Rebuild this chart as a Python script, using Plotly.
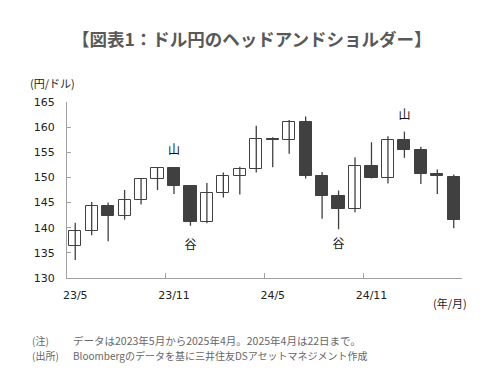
import plotly.graph_objects as go

months = ["23/5","23/6","23/7","23/8","23/9","23/10","23/11","23/12",
          "24/1","24/2","24/3","24/4","24/5","24/6","24/7","24/8","24/9","24/10","24/11","24/12",
          "25/1","25/2","25/3","25/4"]
open_ = [136.4, 139.4, 144.4, 142.4, 145.6, 149.6, 151.8, 148.3,
         141.1, 147.0, 150.2, 151.6, 157.7, 157.4, 161.1, 150.2, 146.3, 143.8, 152.3, 149.8,
         157.4, 155.4, 150.6, 150.1]
high = [141.0, 145.1, 145.0, 147.5, 149.8, 152.0, 152.0, 148.4,
        148.9, 151.0, 152.1, 160.3, 158.0, 161.4, 162.1, 151.1, 147.4, 154.0, 157.0, 158.2,
        159.1, 156.1, 151.6, 150.6]
low = [133.6, 138.5, 137.3, 141.6, 144.6, 147.5, 146.7, 140.4,
       140.9, 146.0, 146.6, 151.0, 152.0, 154.7, 149.8, 141.8, 139.7, 143.1, 149.8, 148.8,
       153.9, 148.7, 146.7, 139.9]
close = [139.4, 144.4, 142.4, 145.6, 149.6, 151.8, 148.3, 141.1,
         147.0, 150.2, 151.6, 157.7, 157.4, 161.1, 150.2, 146.3, 143.8, 152.3, 149.8, 157.4,
         155.4, 150.6, 150.3, 141.6]
tick_labels = ["23/5", "23/11", "24/5", "24/11"]
tick_idx = [0, 6, 12, 18]
mark_text = ["山", "谷", "山", "谷", "山"]
mark_idx = [6, 7, 14, 16, 20]
mark_val = [155.2, 136.4, 165.4, 136.6, 162.2]

x = list(range(len(months)))
dark = "#404040"

fig = go.Figure()
wx, wy = [], []
for i in x:
    wx += [i, i, None]
    wy += [low[i], high[i], None]
fig.add_trace(go.Scatter(x=wx, y=wy, mode="lines", line=dict(color=dark, width=1.3),
                         hoverinfo="skip", showlegend=False))
base = [min(o, c) for o, c in zip(open_, close)]
hgt = [max(abs(c - o), 0.25) for o, c in zip(open_, close)]
fills = ["white" if c >= o else dark for o, c in zip(open_, close)]
fig.add_trace(go.Bar(x=x, y=hgt, base=base, width=0.74,
                     marker=dict(color=fills, line=dict(color=dark, width=1)),
                     showlegend=False))
fig.add_trace(go.Scatter(x=mark_idx, y=mark_val, mode="text", text=mark_text,
                         textposition="middle center", cliponaxis=False,
                         textfont=dict(family="Noto Sans CJK JP", size=12, color="#111111"),
                         hoverinfo="skip", showlegend=False))

axcol = "#a0a0a0"
fig.update_layout(
    width=500, height=372,
    margin=dict(l=67, r=38, t=102, b=94),
    paper_bgcolor="white", plot_bgcolor="white",
    bargap=0,
    font=dict(family="DejaVu Sans", size=11, color="#222"),
    xaxis=dict(range=[-0.5, 23.5], tickmode="array",
               tickvals=[-0.5, 5.5, 11.5, 17.5, 23.5], ticks="inside", ticklen=5,
               tickcolor=axcol, showticklabels=False, showline=True, linecolor=axcol,
               linewidth=1, showgrid=False, zeroline=False, fixedrange=True),
    xaxis2=dict(range=[-0.5, 23.5], overlaying="x", anchor="y", side="bottom",
                tickmode="array", tickvals=tick_idx, ticktext=tick_labels, ticks="",
                showline=False, showgrid=False, zeroline=False, ticklabelstandoff=9,
                tickfont=dict(family="DejaVu Sans", size=11, color="#222")),
    yaxis=dict(range=[130, 165], tickmode="array", tickvals=list(range(130, 166, 5)),
               ticks="inside", ticklen=4, tickcolor=axcol, showline=True, linecolor=axcol,
               linewidth=1, showgrid=False, zeroline=False, ticklabelstandoff=9,
               tickfont=dict(family="DejaVu Sans", size=11, color="#222")),
)
fig.add_trace(go.Scatter(x=[None], y=[None], xaxis="x2", showlegend=False, hoverinfo="skip"))

jp = "Noto Sans CJK JP"
def px(xp):
    return (xp - 67) / 395
def py(yp):
    return (372 - 94 - yp) / 176

def note(xp, yp, text, size, color, anchor="left"):
    fig.add_annotation(xref="paper", yref="paper", x=px(xp), y=py(yp), xanchor=anchor,
                       yanchor="middle", showarrow=False, text=text, borderpad=0,
                       font=dict(family=jp, size=size, color=color))

note(252, 38, "<b>【図表1：ドル円のヘッドアンドショルダー】</b>", 17.5, "#595959", "center")
note(29, 83, "(円/ドル)", 11, "#222")
note(468, 303, "(年/月)", 11, "#222", "right")
note(31, 340, "(注)", 10, "#666")
note(31, 355, "(出所)", 10, "#666")
note(72, 340, "データは2023年5月から2025年4月。2025年4月は22日まで。", 10.5, "#666")
note(72, 355, "Bloombergのデータを基に三井住友DSアセットマネジメント作成", 10, "#666")

fig.write_html("out.html", config={"displayModeBar": False},
               post_script="document.body.style.margin='0';")
